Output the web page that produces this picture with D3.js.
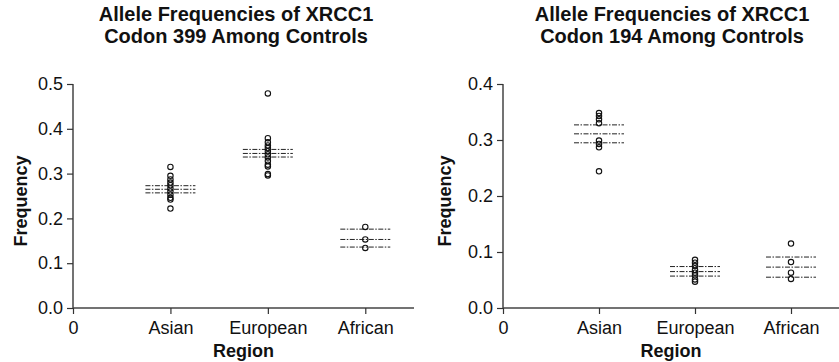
<!DOCTYPE html>
<html>
<head>
<meta charset="utf-8">
<script src="https://cdn.jsdelivr.net/npm/d3@7"></script>
<style>
  body { margin: 0; background: #fff; }
  text { font-family: "Liberation Sans", Arial, sans-serif; fill: #111; }
  .title { font-weight: bold; font-size: 20px; }
  .axlabel { font-weight: bold; font-size: 18px; }
  .tick text { font-size: 18px; }
</style>
</head>
<body>
<script>
// categories on x axis ("0" sits at the origin)
let regions = ["Asian", "European", "African"];

// codon 399 controls
let c399Asian = [0.315, 0.295, 0.287, 0.280, 0.274, 0.267, 0.260, 0.253, 0.246, 0.242, 0.222],
  c399European = [0.479, 0.379, 0.370, 0.363, 0.357, 0.350, 0.343, 0.336, 0.328, 0.320, 0.316, 0.299, 0.296],
  c399African = [0.181, 0.153, 0.134];
// mean and 95% CI lines [low, mean, high]
let c399Lines = [[0.257, 0.265, 0.273], [0.337, 0.345, 0.354], [0.136, 0.153, 0.176]];
let c399Ticks = [0, 0.1, 0.2, 0.3, 0.4, 0.5];

// codon 194 controls
let c194Asian = [0.348, 0.343, 0.337, 0.330, 0.299, 0.293, 0.287, 0.244],
  c194European = [0.086, 0.081, 0.075, 0.068, 0.063, 0.058, 0.051, 0.047],
  c194African = [0.115, 0.082, 0.063, 0.052];
let c194Lines = [[0.295, 0.311, 0.327], [0.057, 0.065, 0.074], [0.055, 0.073, 0.091]];
let c194Ticks = [0, 0.1, 0.2, 0.3, 0.4];

let W = 839, H = 362;

let svg = d3.select("body").append("svg")
  .attr("width", W)
  .attr("height", H);

function panel(left, right, yMax, ticks, groups, lines, codon, cx, labelOff) {
  let top = 84, bottom = 308;

  let x = d3.scaleLinear().domain([0, 3.5]).range([left, right]);
  let y = d3.scaleLinear().domain([0, yMax]).range([bottom, top]);

  let g = svg.append("g");

  // titles
  g.append("text").attr("class", "title")
    .attr("x", cx).attr("y", 21).attr("text-anchor", "middle")
    .text("Allele Frequencies of XRCC1");
  g.append("text").attr("class", "title")
    .attr("x", cx).attr("y", 43).attr("text-anchor", "middle")
    .text("Codon " + codon + " Among Controls");

  // y axis
  let yAxis = g.append("g")
    .attr("transform", "translate(" + left + ",0)")
    .call(d3.axisLeft(y).tickValues(ticks).tickFormat(d3.format(".1f")).tickSize(6).tickPadding(4));

  // x axis
  let xAxis = g.append("g")
    .attr("transform", "translate(0," + bottom + ")")
    .call(d3.axisBottom(x).tickValues([0, 1, 2, 3])
      .tickFormat((d, i) => (i == 0 ? "0" : regions[i - 1]))
      .tickSize(6).tickPadding(7));

  [yAxis, xAxis].forEach(function (a) {
    a.select(".domain").attr("stroke", "#444").attr("stroke-width", 1.5);
    a.selectAll(".tick line").attr("stroke", "#333").attr("stroke-width", 1.2);
    a.selectAll(".tick text").attr("font-family", "Liberation Sans, Arial, sans-serif").attr("fill", "#111");
  });
  // x axis domain without the outer ticks
  xAxis.select(".domain").attr("d", "M" + left + ",0H" + right);
  yAxis.select(".domain").attr("d", "M0," + y(yMax) + "V" + bottom);

  // axis labels
  g.append("text").attr("class", "axlabel")
    .attr("transform", "translate(" + (left - labelOff) + "," + ((top + bottom) / 2 + 5) + ") rotate(-90)")
    .attr("text-anchor", "middle")
    .text("Frequency");
  g.append("text").attr("class", "axlabel")
    .attr("x", (left + right) / 2).attr("y", 357).attr("text-anchor", "middle")
    .text("Region");

  // mean / CI lines
  lines.forEach(function (l, i) {
    g.selectAll(null)
      .data(l)
      .enter()
      .append("line")
      .attr("x1", x(i + 1) - 25)
      .attr("x2", x(i + 1) + 25)
      .attr("y1", (d) => y(d))
      .attr("y2", (d) => y(d))
      .attr("stroke", "#222")
      .attr("stroke-width", 1)
      .attr("stroke-dasharray", "5,1.5,1.5,1.5");
  });

  // points
  groups.forEach(function (vals, i) {
    g.selectAll(null)
      .data(vals)
      .enter()
      .append("circle")
      .attr("cx", x(i + 1))
      .attr("cy", (d) => y(d))
      .attr("r", 2.7)
      .attr("fill", "none")
      .attr("stroke", "#111")
      .attr("stroke-width", 1.1);
  });
}

panel(73, 414, 0.5, c399Ticks, [c399Asian, c399European, c399African], c399Lines, "399", 236, 46);
panel(503, 839, 0.4, c194Ticks, [c194Asian, c194European, c194African], c194Lines, "194", 672, 52);
</script>
</body>
</html>
